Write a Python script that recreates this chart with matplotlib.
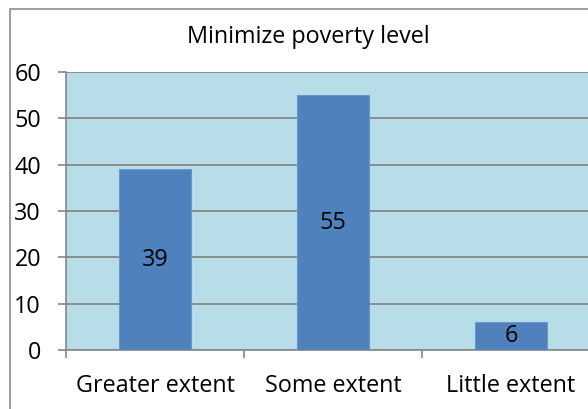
import matplotlib
matplotlib.use('Agg')
import matplotlib.pyplot as plt
from matplotlib.patches import Rectangle

categories = ['Greater extent', 'Some extent', 'Little extent']
values = [39, 55, 6]
title = 'Minimize poverty level'

plt.rcParams['font.family'] = ['Open Sans', 'DejaVu Sans']
FS = 16.8

W, H = 588, 409
fig = plt.figure(figsize=(W / 100, H / 100), dpi=100)
fig.patch.set_facecolor('white')

# chart border (runs off the right and bottom of the image)
fig.patches.append(Rectangle((9.5 / W, -0.05), 1.2, (H - 8.5) / H + 0.05,
                             transform=fig.transFigure, fill=False,
                             edgecolor='#8c8c8c', linewidth=1.2))

ax = fig.add_axes([66 / W, (H - 350) / H, (600 - 66) / W, (350 - 72) / H])
ax.set_facecolor('#B7DDE8')

x = list(range(len(categories)))
ax.bar(x, values, width=0.4, color='#4F81BD', edgecolor='#6a97cc', linewidth=0.8, zorder=3)
for xi, v in zip(x, values):
    ax.text(xi, v / 2, str(v), ha='center', va='center', fontsize=FS, color='black', zorder=4)

ax.set_xlim(-0.5, 2.5)
ax.set_ylim(0, 60)
ax.set_yticks(range(0, 61, 10))
ax.yaxis.grid(True, color='#868686', linewidth=1.3, zorder=1)
ax.set_axisbelow(True)

ax.set_xticks([-0.5, 0.5, 1.5, 2.5])
ax.set_xticklabels([])
ax.set_xticks(x, minor=True)
ax.set_xticklabels(categories, minor=True, fontsize=FS)
ax.tick_params(axis='x', which='major', length=6, color='#868686', width=1.2)
ax.tick_params(axis='x', which='minor', length=0, pad=17)
ax.tick_params(axis='y', length=6, color='#868686', width=1.2, labelsize=FS, pad=12)

for s in ['top', 'right']:
    ax.spines[s].set_visible(False)
for s in ['left', 'bottom']:
    ax.spines[s].set_color('#868686')
    ax.spines[s].set_linewidth(1.2)

fig.text(308 / W, (H - 37) / H, title, ha='center', va='center', fontsize=FS)

fig.savefig('out.png', dpi=100)
